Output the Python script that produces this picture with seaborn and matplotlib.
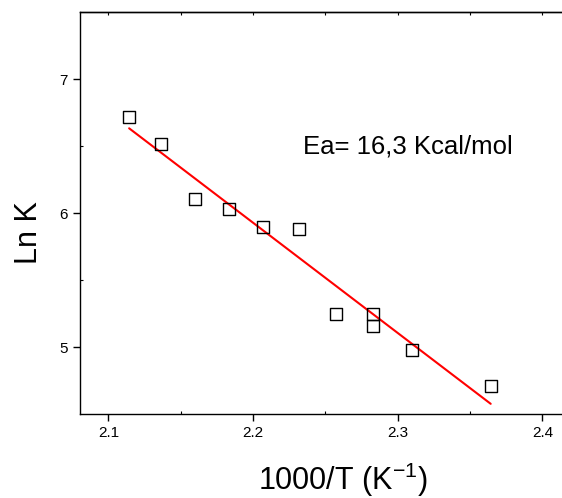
import numpy as np
import pandas as pd
import matplotlib
matplotlib.use('Agg')
import matplotlib.pyplot as plt
from matplotlib.ticker import MultipleLocator
import seaborn as sns

# data
inv_T = [2.1143, 2.1364, 2.1599, 2.1834, 2.2071, 2.2320, 2.2574, 2.2831, 2.2831, 2.3097, 2.3643]
ln_k = [6.719, 6.513, 6.106, 6.034, 5.897, 5.880, 5.251, 5.251, 5.157, 4.978, 4.712]
ea_text = 'Ea= 16,3 Kcal/mol'

df = pd.DataFrame({'invT': inv_T, 'lnK': ln_k})

sns.set_style('ticks')
plt.rcParams['font.family'] = ['Liberation Sans', 'DejaVu Sans']
plt.rcParams['mathtext.fontset'] = 'custom'
plt.rcParams['mathtext.rm'] = 'Liberation Sans'
plt.rcParams['text.color'] = 'black'
plt.rcParams['axes.labelcolor'] = 'black'
plt.rcParams['xtick.color'] = 'black'
plt.rcParams['ytick.color'] = 'black'

fig = plt.figure(figsize=(5.62, 4.98), dpi=100)
ax = fig.add_axes([0.1415, 0.1687, 0.8585, 0.8062])

# fitted line
sns.regplot(data=df, x='invT', y='lnK', scatter=False, ci=None, truncate=True,
            line_kws=dict(color='red', lw=1.5), ax=ax)
sns.scatterplot(data=df, x='invT', y='lnK', marker='s', s=75,
                facecolor='none', edgecolor='black', linewidth=1, ax=ax, zorder=3)

ax.set_xlim(2.08, 2.4136)
ax.set_ylim(4.503, 7.496)
ax.xaxis.set_major_locator(MultipleLocator(0.1))
ax.xaxis.set_minor_locator(MultipleLocator(0.05))
ax.yaxis.set_major_locator(MultipleLocator(1))
ax.yaxis.set_minor_locator(MultipleLocator(0.5))
ax.tick_params(which='major', direction='out', length=5, width=1, labelsize=11, color='black')
ax.tick_params(which='minor', direction='in', length=2, width=0.8, color='black')

sec = ax.secondary_xaxis('top')
sec.xaxis.set_major_locator(MultipleLocator(0.1))
sec.xaxis.set_minor_locator(MultipleLocator(0.05))
sec.tick_params(which='both', direction='in', length=2, width=0.8, labeltop=False)
sec.spines['top'].set_linewidth(1)

for s in ['left', 'bottom', 'top']:
    ax.spines[s].set_visible(True)
    ax.spines[s].set_linewidth(1)
    ax.spines[s].set_color('black')
ax.spines['right'].set_visible(False)

ax.set_xlabel('1000/T (K$^{\\mathrm{-}1}$)', fontsize=22, labelpad=15)
ax.set_ylabel('Ln K', fontsize=22, labelpad=11)
ax.xaxis.label.set_x(0.545)
ax.yaxis.label.set_y(0.453)

ax.text(2.2346, 6.5, ea_text, fontsize=18.5, ha='left', va='center')

fig.savefig('out.png', dpi=100)
